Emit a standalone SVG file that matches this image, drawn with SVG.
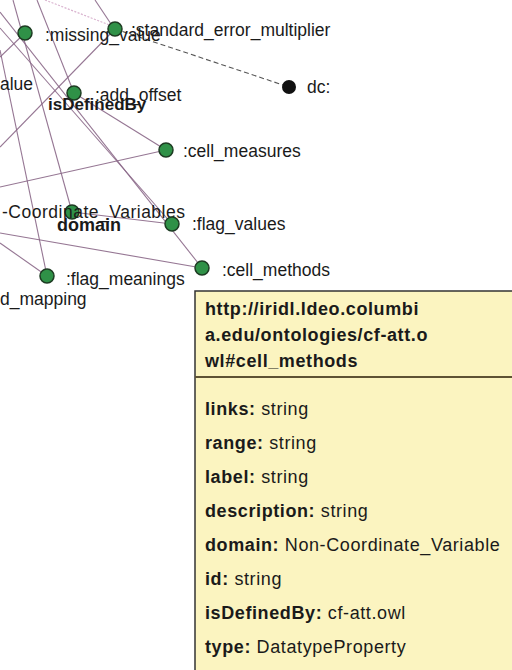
<svg xmlns="http://www.w3.org/2000/svg" width="512" height="670" viewBox="0 0 512 670">
<style>
.edge{stroke:#8a6787;stroke-width:1.1;fill:none;opacity:0.9}
.pink{stroke:#d9b3cf;stroke-width:1.2;fill:none;stroke-dasharray:2 1.5}
.dash{stroke:#555;stroke-width:1.1;fill:none;stroke-dasharray:5 3}
.node{fill:#2f9147;stroke:#1d3b22;stroke-width:1.5}
.lbl{font-family:"Liberation Sans",Arial,sans-serif;font-size:17.5px;fill:#1a1a1a}
.elbl{font-family:"Liberation Sans",Arial,sans-serif;font-weight:bold;fill:#1a1a1a}
.tip{font-family:"Liberation Sans",Arial,sans-serif;font-size:18px;fill:#1a1a1a;letter-spacing:0.6px}
.k{font-weight:bold}
</style>
<rect x="0" y="0" width="512" height="670" fill="#ffffff"/>
<g id="connectors">
<line class="pink" x1="45" y1="0" x2="112" y2="26"/>
<line class="edge" x1="95" y1="0" x2="113" y2="27"/>
<line class="edge" x1="0" y1="12" x2="202" y2="268"/>
<line class="edge" x1="0" y1="28" x2="172" y2="224"/>
<line class="edge" x1="37" y1="0" x2="74" y2="93"/>
<line class="edge" x1="13" y1="0" x2="72" y2="212"/>
<line class="edge" x1="115" y1="29" x2="0" y2="147"/>
<line class="edge" x1="25" y1="33" x2="0" y2="57"/>
<line class="edge" x1="0" y1="187" x2="166" y2="150"/>
<line class="edge" x1="74" y1="93" x2="166" y2="150"/>
<line class="edge" x1="72" y1="212" x2="172" y2="224"/>
<line class="edge" x1="0" y1="233" x2="202" y2="268"/>
<line class="edge" x1="0" y1="243" x2="47" y2="276"/>
<line class="edge" x1="0" y1="50" x2="47" y2="276"/>
<line class="dash" x1="115" y1="29" x2="289" y2="87"/>
<text class="elbl" x="48" y="110" font-size="17">isDefinedBy</text>
<text class="elbl" x="57" y="231" font-size="18">domain</text>
</g>
<g id="n_missing_value"><circle class="node" cx="25" cy="33" r="7"/><text class="lbl" x="45" y="41">:missing_value</text></g>
<g id="n_value_cut"><text class="lbl" x="0" y="90">alue</text></g>
<g id="n_standard_error_multiplier"><circle class="node" cx="115" cy="29" r="7"/><text class="lbl" x="131" y="36">:standard_error_multiplier</text></g>
<g id="n_dc"><circle cx="289" cy="87" r="7" fill="#111"/><text class="lbl" x="307" y="93">dc:</text></g>
<g id="n_add_offset"><circle class="node" cx="74" cy="93" r="7"/><text class="lbl" x="95" y="101">:add_offset</text></g>
<g id="n_cell_measures"><circle class="node" cx="166" cy="150" r="7"/><text class="lbl" x="183" y="157">:cell_measures</text></g>
<g id="n_noncoord"><circle class="node" cx="72" cy="212" r="7"/><text class="lbl" x="2" y="218" textLength="183" lengthAdjust="spacing">-Coordinate_Variables</text></g>
<g id="n_flag_values"><circle class="node" cx="172" cy="224" r="7"/><text class="lbl" x="192" y="230">:flag_values</text></g>
<g id="n_cell_methods"><circle class="node" cx="202" cy="268" r="7"/><text class="lbl" x="222" y="276">:cell_methods</text></g>
<g id="n_flag_meanings"><circle class="node" cx="47" cy="276" r="7"/><text class="lbl" x="66" y="285">:flag_meanings</text></g>
<g id="n_mapping_cut"><text class="lbl" x="0" y="305">d_mapping</text></g>
<g id="tooltip">
<rect x="195" y="291" width="330" height="390" fill="#fbf4c0" stroke="#333" stroke-width="1.5"/>
<line x1="195" y1="377" x2="512" y2="377" stroke="#5e5234" stroke-width="2"/>
<text class="tip k" x="205" y="315">http://iridl.ldeo.columbi</text>
<text class="tip k" x="205" y="341">a.edu/ontologies/cf-att.o</text>
<text class="tip k" x="205" y="367">wl#cell_methods</text>
<text class="tip" x="205" y="415"><tspan class="k">links:</tspan> string</text>
<text class="tip" x="205" y="449"><tspan class="k">range:</tspan> string</text>
<text class="tip" x="205" y="483"><tspan class="k">label:</tspan> string</text>
<text class="tip" x="205" y="517"><tspan class="k">description:</tspan> string</text>
<text class="tip" x="205" y="551"><tspan class="k">domain:</tspan> Non-Coordinate_Variable</text>
<text class="tip" x="205" y="585"><tspan class="k">id:</tspan> string</text>
<text class="tip" x="205" y="619"><tspan class="k">isDefinedBy:</tspan> cf-att.owl</text>
<text class="tip" x="205" y="653"><tspan class="k">type:</tspan> DatatypeProperty</text>
</g>
</svg>
